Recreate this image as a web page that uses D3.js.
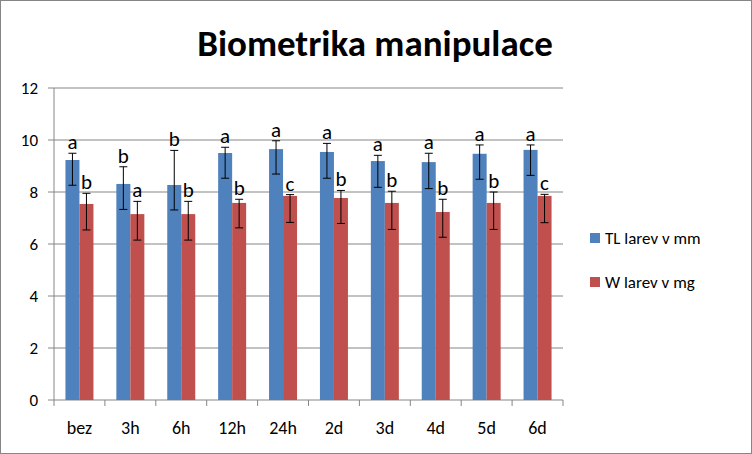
<!DOCTYPE html><html><head><meta charset="utf-8"><script src="https://cdn.jsdelivr.net/npm/d3@7"></script>
<style>body{margin:0;background:#fff}text{font-family:Carlito,"Liberation Sans",Arial,sans-serif}</style></head><body><svg width="752" height="454"></svg><script>
const categories=["bez","3h","6h","12h","24h","2d","3d","4d","5d","6d"];
const tlValues=[9.23,8.31,8.27,9.5,9.65,9.54,9.19,9.15,9.47,9.62];
const tlHigh=[9.49,8.97,9.6,9.72,9.97,9.87,9.41,9.49,9.81,9.81];
const tlLow=[8.26,7.33,7.31,8.53,8.69,8.53,8.18,8.13,8.49,8.64];
const tlLetters=["a","b","b","a","a","a","a","a","a","a"];
const wValues=[7.54,7.15,7.15,7.58,7.85,7.77,7.58,7.23,7.58,7.85];
const wHigh=[7.95,7.64,7.64,7.72,7.9,8.06,8.03,7.72,8.0,7.91];
const wLow=[6.54,6.15,6.15,6.62,6.83,6.79,6.56,6.26,6.56,6.82];
const wLetters=["b","a","b","b","c","b","b","b","b","c"];
const yTicks=[0,2,4,6,8,10,12];
const seriesNames=["TL larev v mm","W larev v mg"];
const colors=["#4F81BD","#C0504D"];
const svg=d3.select("svg");
svg.append("rect").attr("x",0.5).attr("y",0.5).attr("width",751).attr("height",453).attr("fill","#fff").attr("stroke","#868686");
svg.append("text").attr("x",375).attr("y",56).attr("text-anchor","middle").attr("font-size",37).attr("font-weight","bold").text("Biometrika manipulace");
const L=54,R=563,T=88,B=400;
const x=d3.scaleBand().domain(categories).range([L,R]);
const y=d3.scaleLinear().domain([0,12]).range([B,T]);
const g=svg.append("g");
yTicks.forEach(t=>{g.append("line").attr("x1",L-6).attr("x2",R).attr("y1",y(t)).attr("y2",y(t)).attr("stroke","#868686");
g.append("text").attr("x",L-16).attr("y",y(t)+6).attr("text-anchor","end").attr("font-size",17).text(t);});
g.append("line").attr("x1",L).attr("x2",L).attr("y1",T).attr("y2",B).attr("stroke","#868686");
categories.forEach((c,i)=>{g.append("line").attr("x1",x(c)+x.bandwidth()).attr("x2",x(c)+x.bandwidth()).attr("y1",B).attr("y2",B+6).attr("stroke","#868686");
g.append("text").attr("x",x(c)+x.bandwidth()/2).attr("y",B+34).attr("text-anchor","middle").attr("font-size",18).text(c);});
g.append("line").attr("x1",L).attr("x2",L).attr("y1",B).attr("y2",B+6).attr("stroke","#868686");
const bw=14;
const series=[[tlValues,tlHigh,tlLow,tlLetters],[wValues,wHigh,wLow,wLetters]];
series.forEach((s,k)=>{categories.forEach((c,i)=>{
 const cx=x(c)+x.bandwidth()/2-bw+k*bw;
 g.append("rect").attr("x",cx).attr("y",y(s[0][i])).attr("width",bw).attr("height",B-y(s[0][i])).attr("fill",colors[k]);
 const mx=cx+bw/2;
 g.append("line").attr("x1",mx).attr("x2",mx).attr("y1",y(s[1][i])).attr("y2",y(s[2][i])).attr("stroke","#000");
 [s[1][i],s[2][i]].forEach(v=>g.append("line").attr("x1",mx-4).attr("x2",mx+4).attr("y1",y(v)).attr("y2",y(v)).attr("stroke","#000"));
 g.append("text").attr("x",mx).attr("y",y(s[1][i])-4).attr("text-anchor","middle").attr("font-size",21).text(s[3][i]);
});});
seriesNames.forEach((n,k)=>{const yy=238+k*44;
 svg.append("rect").attr("x",590).attr("y",yy-5).attr("width",10).attr("height",10).attr("fill",colors[k]);
 svg.append("text").attr("x",605).attr("y",yy+6).attr("font-size",17).text(n);});
</script></body></html>
